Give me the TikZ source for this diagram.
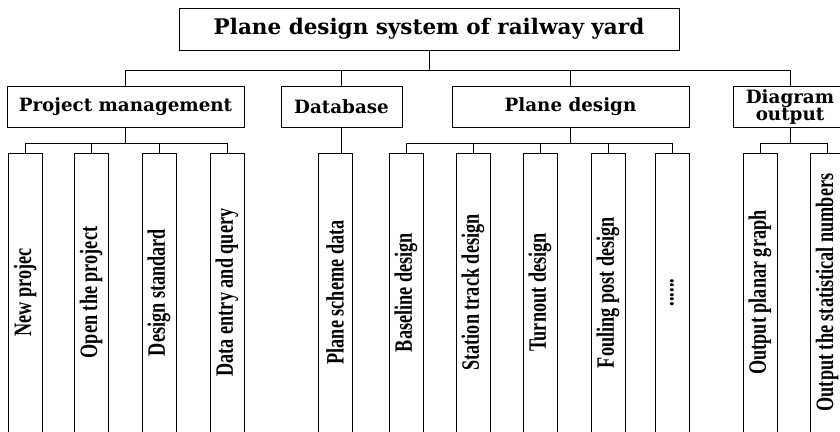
\documentclass[tikz,border=0pt]{standalone}
\usepackage{fontspec}
\setmainfont{Liberation Serif}
\newfontfamily\headfont{DejaVu Serif}
\newfontfamily\leaffont[FakeStretch=0.73]{Liberation Serif}
\usepackage{tikz}

\begin{document}
\begin{tikzpicture}[x=1pt, y=-1pt,
  head/.style={draw, line width=1pt, align=center, inner sep=0pt, minimum height=41pt,
               font=\headfont\bfseries\fontsize{18.3}{17}\selectfont},
  leaf/.style={draw, line width=1pt, rotate=90, inner sep=0pt,
               minimum width=279pt, minimum height=34pt,
               font=\leaffont\bfseries\fontsize{25}{25}\selectfont},
  link/.style={line width=1pt}
]
  \clip (0,0) rectangle (840,431);
  % top and second level
  \node[head, minimum width=500pt, minimum height=42pt, font=\headfont\bfseries\fontsize{21.5}{21.5}\selectfont]
        (sys) at (429, 29) {Plane design system of railway yard};
  \node[head, minimum width=237pt] (pm)   at (125.5, 106.5) {Project management};
  \node[head, minimum width=121pt] (db)   at (341.5, 106.5) {Database};
  \node[head, minimum width=237pt] (pd)   at (570.5, 106.5) {Plane design};
  \node[head, minimum width=114pt] (dout) at (790,   106.5) {Diagram\\output};
  \draw[link] (sys.south) -- ++(0,20) -| (pm.north);
  \draw[link] (sys.south) -- ++(0,20) -| (db.north);
  \draw[link] (sys.south) -- ++(0,20) -| (pd.north);
  \draw[link] (sys.south) -- ++(0,20) -| (dout.north);
  % leaves
  \node[leaf] (pm1) at (25,  292.5) {New projec};
  \node[leaf] (pm2) at (91,  292.5) {Open the project};
  \node[leaf] (pm3) at (159, 292.5) {Design standard};
  \node[leaf] (pm4) at (227, 292.5) {Data entry and query};
  \node[leaf] (db1) at (335, 292.5) {Plane scheme data};
  \node[leaf] (pd1) at (406, 292.5) {Baseline design};
  \node[leaf] (pd2) at (473, 292.5) {Station track design};
  \node[leaf] (pd3) at (540, 292.5) {Turnout design};
  \node[leaf] (pd4) at (608, 292.5) {Fouling post design};
  \node[leaf] (pd5) at (672, 292.5) {......};
  \node[leaf] (do1) at (760, 292.5) {Output planar graph};
  \node[leaf] (do2) at (827, 292.5) {Output the statistical numbers};
  \draw[link] (pm.south) -- ++(0,16) -| (pm1.east);
  \draw[link] (pm.south) -- ++(0,16) -| (pm2.east);
  \draw[link] (pm.south) -- ++(0,16) -| (pm3.east);
  \draw[link] (pm.south) -- ++(0,16) -| (pm4.east);
  \draw[link] (db.south) -- (db.south |- db1.east);
  \draw[link] (pd.south) -- ++(0,16) -| (pd1.east);
  \draw[link] (pd.south) -- ++(0,16) -| (pd2.east);
  \draw[link] (pd.south) -- ++(0,16) -| (pd3.east);
  \draw[link] (pd.south) -- ++(0,16) -| (pd4.east);
  \draw[link] (pd.south) -- ++(0,16) -| (pd5.east);
  \draw[link] (dout.south) -- ++(0,16) -| (do1.east);
  \draw[link] (dout.south) -- ++(0,16) -| (do2.east);
\end{tikzpicture}
\end{document}
